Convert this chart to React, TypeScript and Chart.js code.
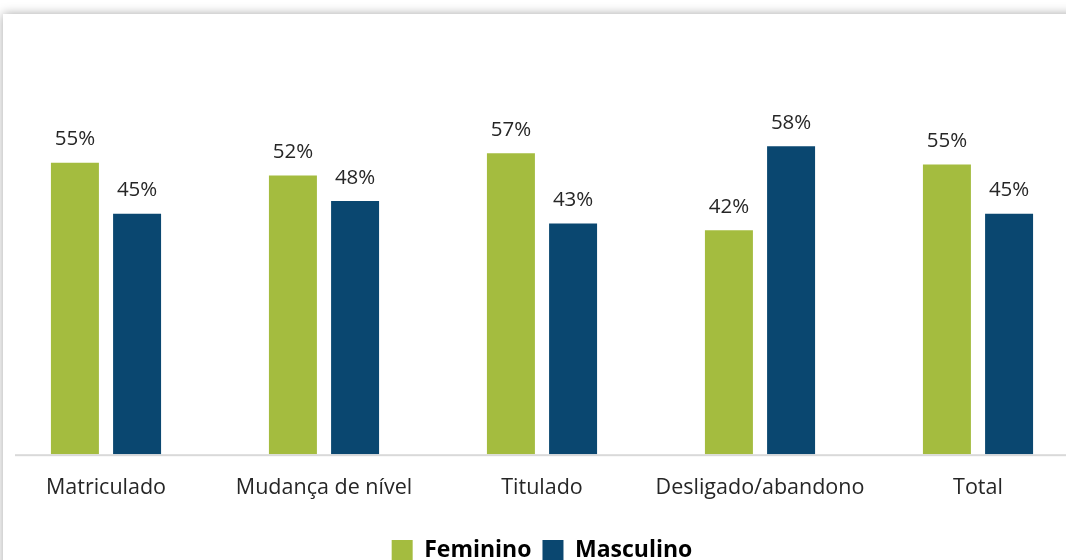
import React, { useEffect, useRef } from "react";
import { Chart, registerables } from "chart.js";

Chart.register(...registerables);

const categories = ["Matriculado", "Mudança de nível", "Titulado", "Desligado/abandono", "Total"];
const feminino = [54.8, 52.4, 56.6, 42.1, 54.5];
const masculino = [45.2, 47.6, 43.4, 57.9, 45.2];
const seriesNames = ["Feminino", "Masculino"];
const seriesColors = ["#A4BC3F", "#0A4770"];

const FONT = "'Open Sans', 'Noto Sans', sans-serif";

const valueLabels = {
  id: "valueLabels",
  afterDatasetsDraw(chart: any) {
    const ctx = chart.ctx;
    ctx.save();
    ctx.font = `20.5px ${FONT}`;
    ctx.fillStyle = "#262626";
    ctx.textAlign = "center";
    ctx.textBaseline = "alphabetic";
    chart.data.datasets.forEach((ds: any, i: number) => {
      const meta = chart.getDatasetMeta(i);
      meta.data.forEach((el: any, j: number) => {
        const v = ds.data[j] as number;
        ctx.fillText(`${Math.round(v)}%`, el.x, el.y - 17.5);
      });
    });
    ctx.restore();
  },
};

const axisLine = {
  id: "axisLine",
  beforeDatasetsDraw(chart: any) {
    const ctx = chart.ctx;
    const { bottom } = chart.chartArea;
    ctx.save();
    ctx.fillStyle = "#D9D9D9";
    ctx.fillRect(18, bottom, chart.width - 18, 2);
    ctx.restore();
  },
};

export default function App() {
  const ref = useRef<HTMLCanvasElement | null>(null);

  useEffect(() => {
    if (!ref.current) return;
    const chart = new Chart(ref.current, {
      type: "bar",
      data: {
        labels: categories,
        datasets: [
          { label: seriesNames[0], data: feminino, backgroundColor: seriesColors[0] },
          { label: seriesNames[1], data: masculino, backgroundColor: seriesColors[1] },
        ],
      },
      options: {
        responsive: false,
        animation: false,
        layout: { padding: { top: 68, left: 0, right: 0, bottom: 0 } },
        datasets: {
          bar: { categoryPercentage: 0.5702, barPercentage: 0.772 },
        },
        scales: {
          x: {
            grid: { display: false, drawTicks: false },
            border: { display: false },
            afterFit: (scale: any) => {
              scale.height += 6;
            },
            ticks: {
              color: "#262626",
              font: { family: FONT, size: 21.5 },
              padding: 21,
              maxRotation: 0,
              autoSkip: false,
            },
          },
          y: {
            display: false,
            min: 0,
            max: 70,
          },
        },
        plugins: {
          legend: {
            position: "bottom",
            labels: {
              boxWidth: 21,
              boxHeight: 21,
              padding: 11,
              color: "#000000",
              font: { family: FONT, size: 23, weight: "bold" },
            },
          },
          tooltip: { enabled: false },
        },
      },
      plugins: [axisLine, valueLabels],
    });
    return () => chart.destroy();
  }, []);

  return (
    <div style={{ position: "fixed", inset: 0, overflow: "hidden", background: "#ffffff" }}>
      <div
        style={{
          position: "absolute",
          left: 3,
          top: 14,
          width: 1200,
          height: 700,
          background: "#ffffff",
          boxShadow: "0 0 10px rgba(0,0,0,0.35)",
        }}
      >
        <canvas
          ref={ref}
          width={1090}
          height={558}
          style={{ position: "absolute", left: -6, top: 0, width: 1090, height: 558 }}
        />
      </div>
    </div>
  );
}
